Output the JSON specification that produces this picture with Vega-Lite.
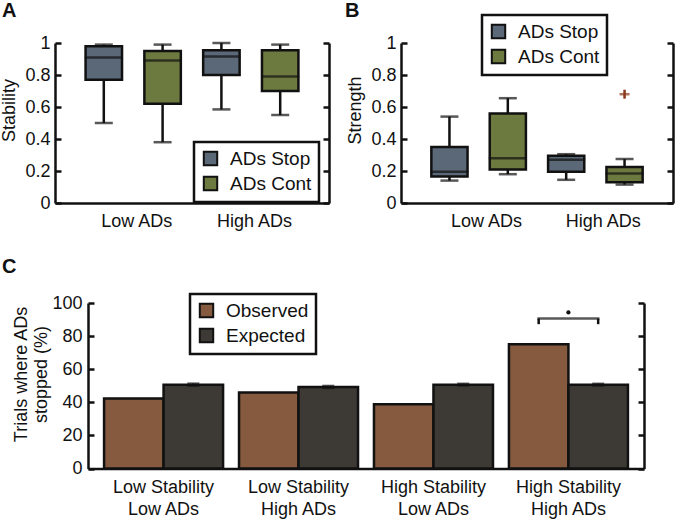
{
  "$schema": "https://vega.github.io/schema/vega-lite/v6.json",
  "padding": 0,
  "config": {
    "font": "Liberation Sans",
    "view": {"stroke": null},
    "axis": {
      "domainColor": "#111",
      "domainWidth": 2.5,
      "tickColor": "#111",
      "tickWidth": 2.5,
      "labelFontSize": 18,
      "labelColor": "#111",
      "labelFont": "Liberation Sans",
      "titleFontSize": 18,
      "titleFontWeight": "normal",
      "titleColor": "#111",
      "titleFont": "Liberation Sans",
      "grid": false
    },
    "legend": {
      "labelFontSize": 19,
      "labelColor": "#111",
      "labelFont": "Liberation Sans",
      "symbolType": "square",
      "symbolSize": 180,
      "symbolStrokeColor": "#111",
      "symbolStrokeWidth": 2,
      "strokeColor": "#111",
      "strokeWidth": 2.5,
      "padding": 7,
      "rowPadding": 2,
      "labelOffset": 10,
      "fillColor": "white"
    },
    "title": {"fontSize": 20, "fontWeight": "bold", "color": "#111", "font": "Liberation Sans"}
  },
  "datasets": {
    "boxA": [
      {"box": "Low ADs|ADs Stop", "cond": "ADs Stop", "lower": 0.50, "q1": 0.77, "median": 0.91, "q3": 0.98, "upper": 0.99},
      {"box": "Low ADs|ADs Cont", "cond": "ADs Cont", "lower": 0.38, "q1": 0.62, "median": 0.89, "q3": 0.95, "upper": 0.99},
      {"box": "High ADs|ADs Stop", "cond": "ADs Stop", "lower": 0.585, "q1": 0.80, "median": 0.915, "q3": 0.955, "upper": 1.0},
      {"box": "High ADs|ADs Cont", "cond": "ADs Cont", "lower": 0.55, "q1": 0.70, "median": 0.79, "q3": 0.955, "upper": 0.99}
    ],
    "boxB": [
      {"box": "Low ADs|ADs Stop", "cond": "ADs Stop", "lower": 0.14, "q1": 0.165, "median": 0.195, "q3": 0.35, "upper": 0.54},
      {"box": "Low ADs|ADs Cont", "cond": "ADs Cont", "lower": 0.18, "q1": 0.21, "median": 0.28, "q3": 0.56, "upper": 0.655},
      {"box": "High ADs|ADs Stop", "cond": "ADs Stop", "lower": 0.145, "q1": 0.195, "median": 0.27, "q3": 0.295, "upper": 0.305},
      {"box": "High ADs|ADs Cont", "cond": "ADs Cont", "lower": 0.115, "q1": 0.13, "median": 0.185, "q3": 0.225, "upper": 0.275}
    ],
    "outB": [
      {"box": "High ADs|ADs Cont", "value": 0.68, "lo": 0.652, "hi": 0.708}
    ],
    "barsC": [
      {"group": "Low Stability|Low ADs", "series": "Observed", "value": 42.3},
      {"group": "Low Stability|Low ADs", "series": "Expected", "value": 50.7},
      {"group": "Low Stability|High ADs", "series": "Observed", "value": 45.9},
      {"group": "Low Stability|High ADs", "series": "Expected", "value": 49.3},
      {"group": "High Stability|Low ADs", "series": "Observed", "value": 38.8},
      {"group": "High Stability|Low ADs", "series": "Expected", "value": 50.7},
      {"group": "High Stability|High ADs", "series": "Observed", "value": 75.1},
      {"group": "High Stability|High ADs", "series": "Expected", "value": 50.7}
    ],
    "errC": [
      {"group": "Low Stability|Low ADs", "lo": 50.1, "hi": 51.3},
      {"group": "Low Stability|High ADs", "lo": 48.7, "hi": 49.9},
      {"group": "High Stability|Low ADs", "lo": 50.2, "hi": 51.2},
      {"group": "High Stability|High ADs", "lo": 50.2, "hi": 51.2}
    ],
    "brkC": [
      {"group": "High Stability|High ADs", "lo": 87.2, "hi": 90.6, "dot": 94.3}
    ]
  },
  "resolve": {"scale": {"color": "independent"}, "legend": {"color": "independent"}},
  "spacing": 26,
  "vconcat": [
    {
      "spacing": 14,
      "resolve": {"scale": {"color": "independent"}, "legend": {"color": "independent"}},
      "hconcat": [
        {
          "title": {"text": "A", "anchor": "start", "frame": "group", "dx": -53, "offset": 13},
          "width": 274,
          "height": 160,
          "data": {"name": "boxA"},
          "encoding": {
            "x": {"field": "box", "type": "nominal",
                  "scale": {"type": "band", "domain": ["Low ADs|ADs Stop", "Low ADs|ADs Cont", "High ADs|ADs Stop", "High ADs|ADs Cont"],
                            "paddingInner": 0.38, "paddingOuter": 0.52},
                  "axis": {"title": null, "labelAngle": 0, "ticks": false, "labelPadding": 9, "labelOffset": 33,
                           "labelExpr": "indexof(datum.label, 'Stop') >= 0 ? split(datum.label, '|')[0] : ''"}}
          },
          "layer": [
            {
              "mark": {"type": "rule", "stroke": "#111", "strokeWidth": 2.5},
              "encoding": {
                "y": {"field": "lower", "type": "quantitative", "scale": {"domain": [0, 1], "nice": false},
                      "axis": {"title": "Stability", "values": [0, 0.2, 0.4, 0.6, 0.8, 1], "format": "~g",
                               "tickSize": -6, "labelPadding": 11, "titlePadding": 6, "titleY": 67}},
                "y2": {"field": "upper"}
              }
            },
            {
              "mark": {"type": "bar", "stroke": "#111", "strokeWidth": 2.5},
              "encoding": {
                "y": {"field": "q1", "type": "quantitative", "axis": null},
                "y2": {"field": "q3"},
                "color": {"field": "cond", "type": "nominal",
                          "scale": {"domain": ["ADs Stop", "ADs Cont"], "range": ["#5a6878", "#6d7a3f"]},
                          "legend": {"title": null, "orient": "none", "legendX": 139, "legendY": 99}}
              }
            },
            {
              "mark": {"type": "tick", "color": "#111", "thickness": 2.5, "size": 38},
              "encoding": {"y": {"field": "median", "type": "quantitative", "axis": null}}
            },
            {
              "mark": {"type": "tick", "color": "#111", "thickness": 2.5, "size": 18},
              "encoding": {"y": {"field": "lower", "type": "quantitative", "axis": null}}
            },
            {
              "mark": {"type": "tick", "color": "#111", "thickness": 2.5, "size": 18},
              "encoding": {"y": {"field": "upper", "type": "quantitative",
                                 "axis": {"orient": "right", "labels": false, "title": null,
                                          "values": [0, 0.2, 0.4, 0.6, 0.8, 1], "tickSize": -6}}}
            }
          ],
          "resolve": {"axis": {"y": "independent"}}
        },
        {
          "title": {"text": "B", "anchor": "start", "frame": "group", "dx": -56, "offset": -7},
          "width": 272,
          "height": 160,
          "data": {"name": "boxB"},
          "encoding": {
            "x": {"field": "box", "type": "nominal",
                  "scale": {"type": "band", "domain": ["Low ADs|ADs Stop", "Low ADs|ADs Cont", "High ADs|ADs Stop", "High ADs|ADs Cont"],
                            "paddingInner": 0.38, "paddingOuter": 0.52},
                  "axis": {"title": null, "labelAngle": 0, "ticks": false, "labelPadding": 9, "labelOffset": 37,
                           "labelExpr": "indexof(datum.label, 'Stop') >= 0 ? split(datum.label, '|')[0] : ''"}}
          },
          "layer": [
            {
              "mark": {"type": "rule", "stroke": "#111", "strokeWidth": 2.5},
              "encoding": {
                "y": {"field": "lower", "type": "quantitative", "scale": {"domain": [0, 1], "nice": false},
                      "axis": {"title": "Strength", "values": [0, 0.2, 0.4, 0.6, 0.8, 1], "format": "~g",
                               "tickSize": -6, "labelPadding": 11, "titlePadding": 6, "titleY": 67}},
                "y2": {"field": "upper"}
              }
            },
            {
              "mark": {"type": "bar", "stroke": "#111", "strokeWidth": 2.5},
              "encoding": {
                "y": {"field": "q1", "type": "quantitative", "axis": null},
                "y2": {"field": "q3"},
                "color": {"field": "cond", "type": "nominal",
                          "scale": {"domain": ["ADs Stop", "ADs Cont"], "range": ["#5a6878", "#6d7a3f"]},
                          "legend": {"title": null, "orient": "none", "legendX": 81, "legendY": -28}}
              }
            },
            {
              "mark": {"type": "tick", "color": "#111", "thickness": 2.5, "size": 38},
              "encoding": {"y": {"field": "median", "type": "quantitative", "axis": null}}
            },
            {
              "mark": {"type": "tick", "color": "#111", "thickness": 2.5, "size": 18},
              "encoding": {"y": {"field": "lower", "type": "quantitative", "axis": null}}
            },
            {
              "mark": {"type": "tick", "color": "#111", "thickness": 2.5, "size": 18},
              "encoding": {"y": {"field": "upper", "type": "quantitative",
                                 "axis": {"orient": "right", "labels": false, "title": null,
                                          "values": [0, 0.2, 0.4, 0.6, 0.8, 1], "tickSize": -6}}}
            },
            {
              "data": {"name": "outB"},
              "mark": {"type": "tick", "color": "#8a3a1a", "thickness": 2.5, "size": 10},
              "encoding": {"y": {"field": "value", "type": "quantitative", "axis": null}}
            },
            {
              "data": {"name": "outB"},
              "mark": {"type": "rule", "stroke": "#8a3a1a", "strokeWidth": 2.5},
              "encoding": {
                "y": {"field": "lo", "type": "quantitative", "axis": null},
                "y2": {"field": "hi"}
              }
            }
          ],
          "resolve": {"axis": {"y": "independent"}}
        }
      ]
    },
    {
      "title": {"text": "C", "anchor": "start", "frame": "group", "dx": -53, "offset": 16},
      "width": 589,
      "height": 165.6,
      "encoding": {
        "x": {"field": "group", "type": "nominal",
              "scale": {"type": "band", "domain": ["Low Stability|Low ADs", "Low Stability|High ADs", "High Stability|Low ADs", "High Stability|High ADs"],
                        "range": [33, 589], "paddingInner": 0.11, "paddingOuter": 0.115},
              "axis": {"title": null, "labelAngle": 0, "ticks": false, "labelPadding": 10,
                       "labelExpr": "split(datum.label, '|')", "labelLineHeight": 22}}
      },
      "layer": [
        {
          "data": {"name": "barsC"},
          "transform": [{"filter": "datum.series === 'Observed'"}],
          "mark": {"type": "bar", "stroke": "#111", "strokeWidth": 2.5, "width": 59.5, "xOffset": -29.75},
          "encoding": {
            "y": {"field": "value", "type": "quantitative", "scale": {"domain": [0, 100], "nice": false},
                  "axis": {"title": ["Trials where ADs", "stopped (%)"], "values": [0, 20, 40, 60, 80, 100], "offset": -33,
                           "tickSize": -6, "labelPadding": 12, "titlePadding": 1, "titleY": 71}},
            "color": {"field": "series", "type": "nominal",
                      "scale": {"domain": ["Observed", "Expected"], "range": ["#855a3e", "#3d3a36"]},
                      "legend": {"title": null, "orient": "none", "legendX": 135, "legendY": -9}}
          }
        },
        {
          "data": {"name": "barsC"},
          "transform": [{"filter": "datum.series === 'Expected'"}],
          "mark": {"type": "bar", "stroke": "#111", "strokeWidth": 2.5, "width": 59.5, "xOffset": 29.75},
          "encoding": {
            "y": {"field": "value", "type": "quantitative", "axis": null},
            "color": {"field": "series", "type": "nominal"}
          }
        },
        {
          "data": {"name": "errC"},
          "mark": {"type": "rule", "stroke": "#111", "strokeWidth": 2.5, "xOffset": 29.75},
          "encoding": {
            "y": {"field": "lo", "type": "quantitative", "axis": null},
            "y2": {"field": "hi"}
          }
        },
        {
          "data": {"name": "errC"},
          "mark": {"type": "tick", "color": "#111", "thickness": 2.5, "size": 12, "xOffset": 29.75},
          "encoding": {"y": {"field": "hi", "type": "quantitative", "axis": null}}
        },
        {
          "data": {"name": "errC"},
          "mark": {"type": "tick", "color": "#111", "thickness": 2.5, "size": 12, "xOffset": 29.75},
          "encoding": {"y": {"field": "lo", "type": "quantitative", "axis": null}}
        },
        {
          "data": {"name": "brkC"},
          "mark": {"type": "rule", "stroke": "#111", "strokeWidth": 2.5, "xOffset": -29.75},
          "encoding": {
            "y": {"field": "lo", "type": "quantitative", "axis": null},
            "y2": {"field": "hi"}
          }
        },
        {
          "data": {"name": "brkC"},
          "mark": {"type": "rule", "stroke": "#111", "strokeWidth": 2.5, "xOffset": 29.75},
          "encoding": {
            "y": {"field": "lo", "type": "quantitative", "axis": null},
            "y2": {"field": "hi"}
          }
        },
        {
          "data": {"name": "brkC"},
          "mark": {"type": "tick", "color": "#111", "thickness": 2.5, "size": 62},
          "encoding": {"y": {"field": "hi", "type": "quantitative", "axis": null}}
        },
        {
          "data": {"name": "brkC"},
          "mark": {"type": "point", "shape": "circle", "filled": true, "color": "#111", "size": 18, "opacity": 1},
          "encoding": {
            "y": {"field": "dot", "type": "quantitative",
                  "axis": {"orient": "right", "labels": false, "title": null,
                           "values": [0, 20, 40, 60, 80, 100], "tickSize": -6}}
          }
        }
      ],
      "resolve": {"axis": {"y": "independent"}}
    }
  ]
}
